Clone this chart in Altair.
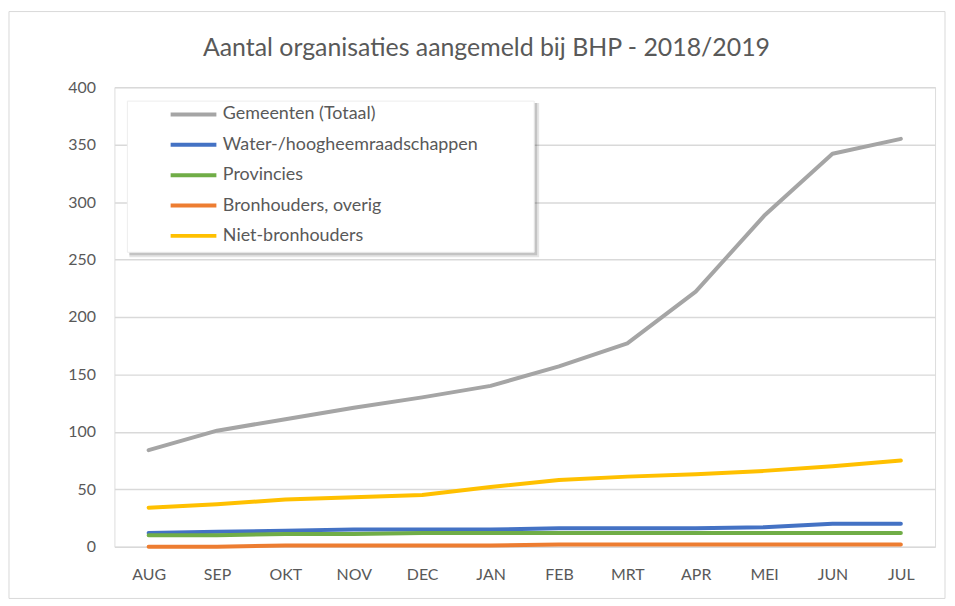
import altair as alt
import pandas as pd

months = ["AUG", "SEP", "OKT", "NOV", "DEC", "JAN", "FEB", "MRT", "APR", "MEI", "JUN", "JUL"]
series_names = ["Gemeenten (Totaal)", "Water-/hoogheemraadschappen", "Provincies",
                "Bronhouders, overig", "Niet-bronhouders"]
colors = ["#A5A5A5", "#4472C4", "#70AD47", "#ED7D31", "#FFC000"]

gemeenten = [84, 101, 111, 121, 130, 140, 157, 177, 222, 288, 342, 355]
water = [12, 13, 14, 15, 15, 15, 16, 16, 16, 17, 20, 20]
provincies = [10, 10, 11, 11, 12, 12, 12, 12, 12, 12, 12, 12]
overig = [0, 0, 1, 1, 1, 1, 2, 2, 2, 2, 2, 2]
niet = [34, 37, 41, 43, 45, 52, 58, 61, 63, 66, 70, 75]

title_text = "Aantal organisaties aangemeld bij BHP - 2018/2019"

values = [gemeenten, water, provincies, overig, niet]
rows = []
for name, vals in zip(series_names, values):
    for m, v in zip(months, vals):
        rows.append({"maand": m, "aantal": v, "reeks": name})
df = pd.DataFrame(rows)

FONT = "Lato"
GREY = "#595959"

W, H = 825, 462
one = pd.DataFrame({"a": [0]})

border = alt.Chart(one).mark_rect(
    fillOpacity=0, stroke="#D9D9D9", strokeWidth=1
).encode(
    x=alt.value(-106), x2=alt.value(835), y=alt.value(-76), y2=alt.value(514)
)

title = alt.Chart(pd.DataFrame({"t": [title_text]})).mark_text(
    font=FONT, fontSize=25, color=GREY, baseline="alphabetic", align="center"
).encode(
    text="t:N", x=alt.value(374), y=alt.value(-31)
)

shadow_outer = alt.Chart(one).mark_rect(fill="#000000", opacity=0.10).encode(
    x=alt.value(15), x2=alt.value(427), y=alt.value(16), y2=alt.value(171)
)
shadow_inner = alt.Chart(one).mark_rect(fill="#000000", opacity=0.15).encode(
    x=alt.value(15), x2=alt.value(425), y=alt.value(16), y2=alt.value(169)
)
legend_box = alt.Chart(one).mark_rect(fill="white", stroke="#EDEDED", strokeWidth=1).encode(
    x=alt.value(13), x2=alt.value(422), y=alt.value(14), y2=alt.value(166)
)

lines = alt.Chart(df).mark_line(strokeWidth=4, strokeCap="round", strokeJoin="round").encode(
    x=alt.X("maand:N", sort=months, scale=alt.Scale(paddingOuter=0.5, paddingInner=0),
            axis=alt.Axis(title=None, labelAngle=0, ticks=False, domain=False,
                          labelPadding=20, labelFontSize=16, labelColor=GREY, labelFont=FONT)),
    y=alt.Y("aantal:Q", scale=alt.Scale(domain=[0, 400], nice=False),
            axis=alt.Axis(title=None, values=list(range(0, 401, 50)), ticks=False, domain=False,
                          labelPadding=19, labelFontSize=16, labelColor=GREY, labelFont=FONT,
                          gridColor="#D9D9D9", gridWidth=1.5)),
    color=alt.Color("reeks:N", sort=series_names,
                    scale=alt.Scale(domain=series_names, range=colors),
                    legend=alt.Legend(
                        title=None, orient="none", legendX=24, legendY=8,
                        padding=6, rowPadding=7.5,
                        symbolType="M-2,0H2", symbolSize=529, symbolStrokeWidth=4,
                        symbolOffset=36, labelOffset=16,
                        labelFontSize=18, labelColor=GREY, labelFont=FONT,
                        labelLimit=400, symbolLimit=10)),
    order=alt.Order("reeks:N")
)

chart = alt.layer(border, title, shadow_outer, shadow_inner, legend_box, lines).properties(
    width=W, height=H,
    autosize=alt.AutoSizeParams(type="none"),
    padding={"left": 107, "top": 78, "right": 12, "bottom": 54}
).configure_view(stroke=None).configure(background="white")

chart.save("out.html", embed_options={"renderer": "svg", "actions": False})
